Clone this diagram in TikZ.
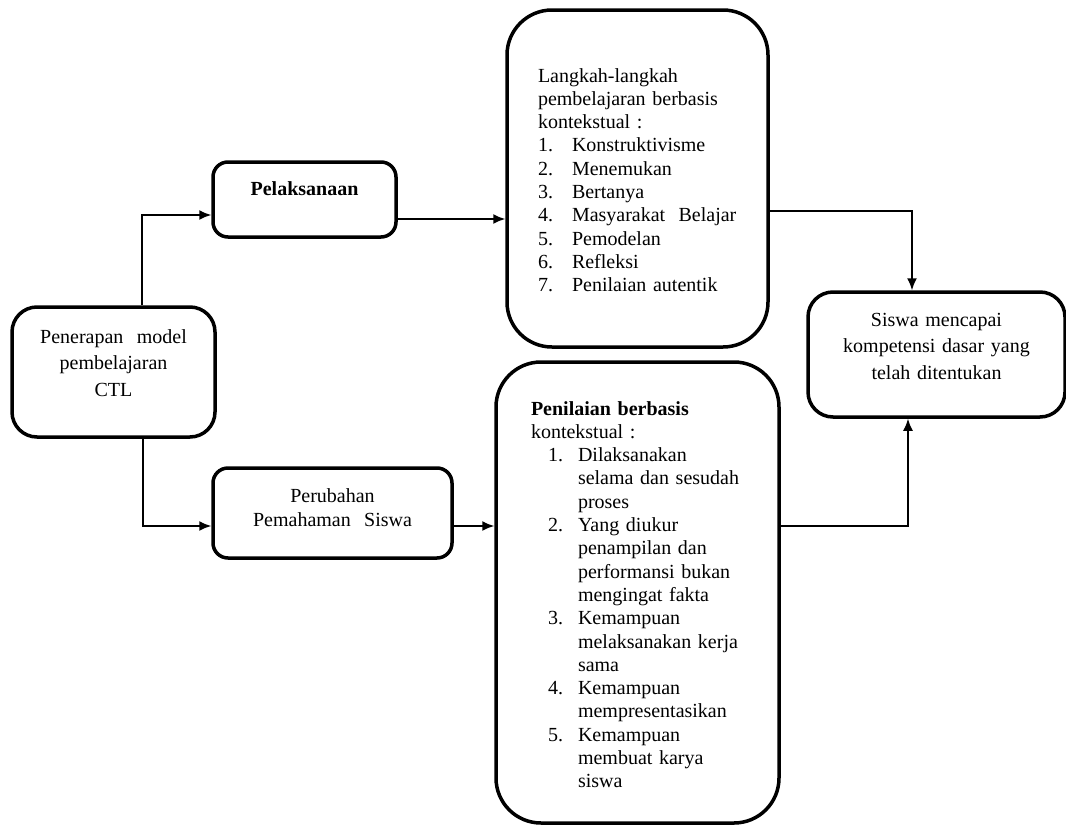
\documentclass[tikz,border=0pt]{standalone}
\usepackage{fontspec}
\setmainfont{Liberation Serif}
\usetikzlibrary{positioning,arrows.meta}

\newcommand{\numbox}[2]{\makebox[#1][l]{#2}}
\newcommand{\hangon}{\hspace*{47pt}}

\begin{document}
\begin{tikzpicture}[x=1pt,y=1pt,
  box/.style={draw, line width=3.5pt, inner sep=0pt, text height=14pt,
    font=\fontsize{20pt}{23.3pt}\selectfont},
  link/.style={line width=1.6pt, -{Latex[length=12pt,width=10pt]}}]
\useasboundingbox (0,0) rectangle (1066,-825);
\node[box, rounded corners=25pt, minimum width=203pt, minimum height=130pt, text width=170pt, align=center, text depth=72pt, font=\fontsize{20pt}{26.5pt}\selectfont] (ctl) at (113.5,-372) {Penerapan\ \ model\\pembelajaran\\CTL};
\node[box, rounded corners=15pt, minimum width=183pt, minimum height=75pt, text width=150pt, align=center, text depth=23pt] (pel) at (304.5,-199.5) {\textbf{Pelaksanaan}};
\node[box, rounded corners=15pt, minimum width=239pt, minimum height=90pt, text width=200pt, align=center, text depth=36pt, font=\fontsize{20pt}{24pt}\selectfont] (per) at (332.5,-513) {Perubahan\\Pemahaman\ \ Siswa};
\node[box, rounded corners=45pt, minimum width=261pt, minimum height=337pt, text width=199pt, align=left, text depth=207pt] (lang) at (637.5,-178.5) {Langkah-langkah\\
pembelajaran berbasis\\
kontekstual :\\
\numbox{34pt}{1.}Konstruktivisme\\
\numbox{34pt}{2.}Menemukan\\
\numbox{34pt}{3.}Bertanya\\
\numbox{34pt}{4.}Masyarakat\ \ Belajar\\
\numbox{34pt}{5.}Pemodelan\\
\numbox{34pt}{6.}Refleksi\\
\numbox{34pt}{7.}Penilaian autentik};
\node[box, rounded corners=45pt, minimum width=283pt, minimum height=461pt, text width=213pt, align=left, text depth=369pt, below=11.5pt of lang] (nil) {\textbf{Penilaian berbasis}\\
kontekstual :\\
\hspace*{17pt}\numbox{30pt}{1.}Dilaksanakan\\
\hangon selama dan sesudah\\
\hangon proses\\
\hspace*{17pt}\numbox{30pt}{2.}Yang diukur\\
\hangon penampilan dan\\
\hangon performansi bukan\\
\hangon mengingat fakta\\
\hspace*{17pt}\numbox{30pt}{3.}Kemampuan\\
\hangon melaksanakan kerja\\
\hangon sama\\
\hspace*{17pt}\numbox{30pt}{4.}Kemampuan\\
\hangon mempresentasikan\\
\hspace*{17pt}\numbox{30pt}{5.}Kemampuan\\
\hangon membuat karya\\
\hangon siswa};
\node[box, rounded corners=25pt, minimum width=257pt, minimum height=125pt, text width=210pt, align=center, text depth=71pt, font=\fontsize{20pt}{26.5pt}\selectfont] (siswa) at (936.5,-354.5) {Siswa mencapai\\kompetensi dasar yang\\telah ditentukan};
\draw[link] ([xshift=28.5pt]ctl.north) |- ([yshift=-15.5pt]pel.west);
\draw[link] ([xshift=29.5pt]ctl.south) |- ([yshift=-13pt]per.west);
\draw[link] ([yshift=-19.5pt]pel.east) -- ([yshift=-19.5pt]pel.east -| lang.west);
\draw[link] ([yshift=-13pt]per.east) -- ([yshift=-13pt]per.east -| nil.west);
\draw[link] ([yshift=-32.5pt]lang.east) -| ([xshift=-24.5pt]siswa.north);
\draw[link] ([yshift=66.5pt]nil.east) -| ([xshift=-28.5pt]siswa.south);
\end{tikzpicture}
\end{document}
